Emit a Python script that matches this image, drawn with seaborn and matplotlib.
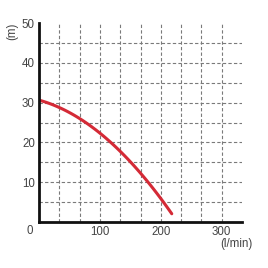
import matplotlib
matplotlib.use("Agg")
import matplotlib.pyplot as plt
import numpy as np
import pandas as pd
import seaborn as sns

# pump curve
flow = [0, 33, 67, 100, 133, 155, 180, 200, 218]
head = [30.2, 29.0, 26.7, 22.3, 17.5, 14.0, 9.8, 5.4, 2.7]
x_ticks = [100, 200, 300]
y_ticks = [10, 20, 30, 40, 50]

sns.set_style("white")
plt.rcParams["font.family"] = ["Liberation Sans", "DejaVu Sans"]

df = pd.DataFrame({"flow": flow, "head": head})

fig = plt.figure(figsize=(2.68, 2.68), dpi=100)
ax = fig.add_axes([39 / 268, 46 / 268, 203 / 268, 199 / 268])

# smooth the read points a bit with a quadratic fit for the curve shape
coef = np.polyfit(df["flow"], df["head"], 2)
xs = np.linspace(0, 218, 100)
curve = pd.DataFrame({"flow": xs, "head": np.polyval(coef, xs)})
sns.lineplot(data=curve, x="flow", y="head", ax=ax, color="#d42a36", linewidth=2.2)

ax.set_xlim(0, 1000 / 3)
ax.set_ylim(0, 50)
ax.set_xticks(x_ticks)
ax.set_yticks(y_ticks)
ax.set_xticks(np.arange(1, 10) * 100 / 3, minor=True)
ax.set_yticks(np.arange(5, 50, 5), minor=True)
ax.grid(which="both", color="#7a7a7a", linestyle=(0, (3, 2)), linewidth=0.8)
ax.yaxis.get_gridlines()[-1].set_visible(False)
ax.tick_params(which="both", length=0, labelsize=8.3, labelcolor="#444444")
ax.tick_params(axis="y", pad=3)
ax.tick_params(axis="x", pad=3)
ax.set_xlabel("")
ax.set_ylabel("")

for s in ["top", "right"]:
    ax.spines[s].set_visible(False)
for s in ["left", "bottom"]:
    ax.spines[s].set_color("#111111")
    ax.spines[s].set_linewidth(2)

fig.text(30 / 268, 1 - 231 / 268, "0", ha="center", va="center", fontsize=8.3, color="#444444")
fig.text(12 / 268, 1 - 31 / 268, "(m)", ha="center", va="center", rotation=90, fontsize=8.3, color="#444444")
fig.text(236 / 268, 1 - 244 / 268, "(l/min)", ha="center", va="center", fontsize=8.3, color="#444444")

fig.savefig("out.png", dpi=100)
